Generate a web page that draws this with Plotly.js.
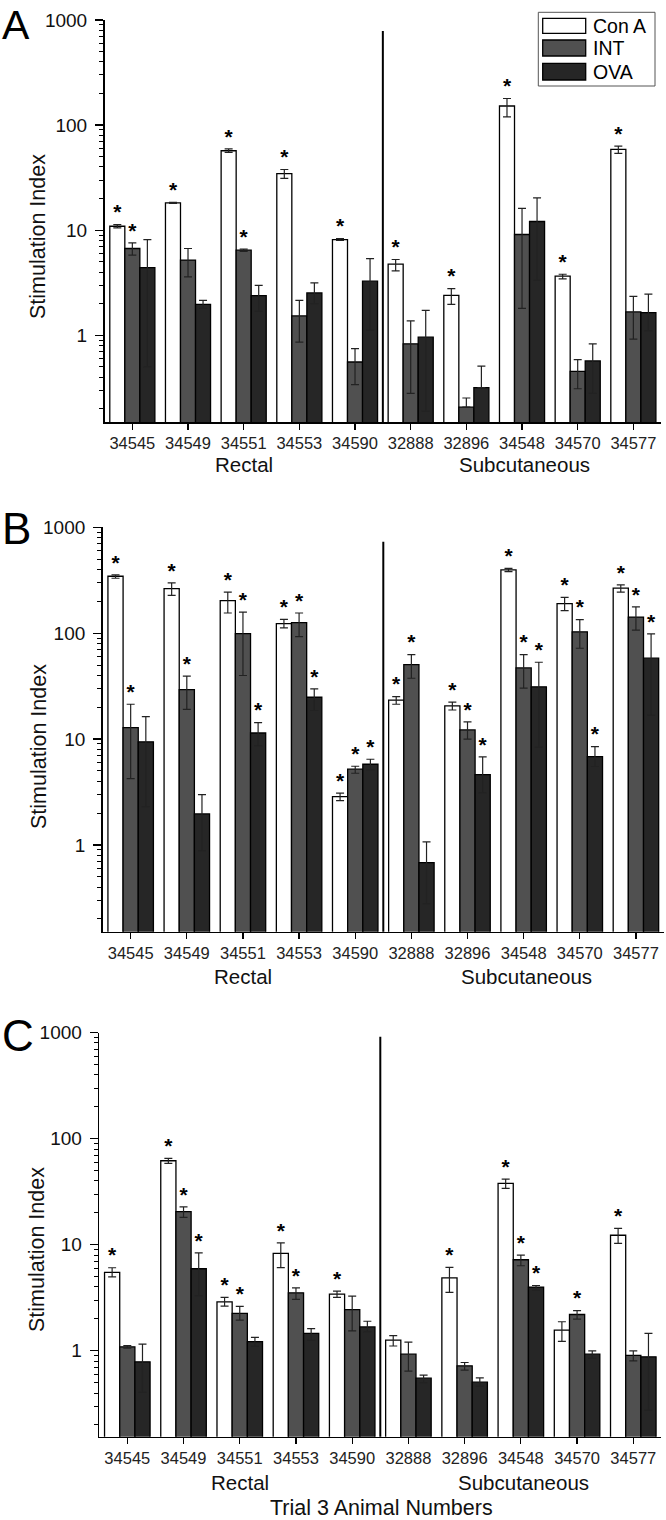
<!DOCTYPE html>
<html>
<head>
<meta charset="utf-8">
<script src="https://cdn.plot.ly/plotly-3.0.1.min.js"></script>
<style>
html,body{margin:0;padding:0;background:#fff;}
#chart{width:666px;height:1520px;}
</style>
</head>
<body>
<div id="chart"></div>
<script>
// ---------------- data ----------------
const animals = ['34545','34549','34551','34553','34590','32888','32896','34548','34570','34577'];
const groupNames = ['Rectal','Subcutaneous'];
const seriesNames = ['Con A','INT','OVA'];
const yTickVals = [1, 10, 100, 1000];
const yTickText = ['1','10','100','1000'];

// Panel A
const conA_A   = [10.9, 18.2, 57, 34.6, 8.15, 4.75, 2.4, 152, 3.65, 58.7];
const conA_A_hi= [11.3, 18.4, 59.5, 37.8, 8.3, 5.26, 2.78, 179, 3.81, 63];
const conA_A_lo= [10.5, 18.0, 55, 31.1, 8.0, 4.1, 1.97, 120, 3.44, 53.8];
const int_A    = [6.7, 5.2, 6.45, 1.53, 0.557, 0.83, 0.207, 9.1, 0.454, 1.67];
const int_A_hi = [7.57, 6.7, 6.6, 2.15, 0.746, 1.37, 0.253, 16.1, 0.587, 2.35];
const int_A_lo = [5.78, 3.6, 6.3, 0.86, 0.34, 0.28, 0.207, 1.8, 0.31, 0.92];
const ova_A    = [4.4, 1.97, 2.39, 2.53, 3.27, 0.96, 0.318, 12.1, 0.57, 1.64];
const ova_A_hi = [8.15, 2.15, 2.99, 3.15, 5.37, 1.73, 0.51, 20.3, 0.83, 2.46];
const ova_A_lo = [0.5, 1.8, 1.69, 2.0, 1.12, 0.19, 0.318, 3.34, 0.28, 1.1];
const sig_conA_A = [1,1,1,1,1,1,1,1,1,1];
const sig_int_A  = [1,0,1,0,0,0,0,0,0,0];
const sig_ova_A  = [0,0,0,0,0,0,0,0,0,0];

// Panel B
const conA_B   = [345, 264, 203, 123, 2.86, 23.3, 20.6, 396, 190, 266];
const conA_B_hi= [355, 298, 244, 135, 3.08, 25.2, 22.3, 410, 218, 286];
const conA_B_lo= [330, 227, 155, 112, 2.62, 21.3, 18.8, 382, 163, 244];
const int_B    = [12.8, 29.3, 99, 126, 5.19, 50.5, 12.2, 47, 103, 142];
const int_B_hi = [21.3, 39.2, 158, 155, 5.53, 62.8, 14.5, 62.8, 134, 177];
const int_B_lo = [4.23, 19.1, 39.8, 92.9, 4.75, 37.5, 9.96, 30.2, 72, 107];
const ova_B    = [9.4, 1.96, 11.4, 24.8, 5.78, 0.68, 4.62, 31.1, 6.83, 58];
const ova_B_hi = [16.3, 2.99, 14.3, 29.8, 6.44, 1.07, 6.78, 53.1, 8.49, 98.4];
const ova_B_lo = [2.3, 0.88, 8.6, 18.6, 5.11, 0.277, 3.1, 8.37, 5.5, 16.8];
const sig_conA_B = [1,1,1,1,1,1,1,1,1,1];
const sig_int_B  = [1,1,1,1,1,1,1,1,1,1];
const sig_ova_B  = [0,0,1,1,1,0,1,1,1,1];

// Panel C
const conA_C   = [5.48, 62, 2.9, 8.28, 3.42, 1.26, 4.88, 37.9, 1.57, 12.3];
const conA_C_hi= [6.07, 65.2, 3.19, 10.4, 3.66, 1.39, 6.11, 41.6, 1.88, 14.3];
const conA_C_lo= [4.99, 58.5, 2.64, 6.1, 3.19, 1.11, 3.55, 34, 1.23, 10.3];
const int_C    = [1.09, 20.5, 2.25, 3.52, 2.45, 0.93, 0.722, 7.22, 2.2, 0.904];
const int_C_hi = [1.12, 22.8, 2.62, 3.93, 3.28, 1.21, 0.776, 8.0, 2.39, 1.0];
const int_C_lo = [1.06, 18.1, 1.95, 3.05, 1.54, 0.643, 0.657, 6.34, 1.99, 0.805];
const ova_C    = [0.787, 5.94, 1.22, 1.46, 1.68, 0.552, 0.506, 3.99, 0.93, 0.877];
const ova_C_hi = [1.156, 8.4, 1.34, 1.62, 1.9, 0.589, 0.556, 4.13, 1.0, 1.46];
const ova_C_lo = [0.405, 3.3, 1.1, 1.26, 1.51, 0.5, 0.464, 3.73, 0.85, 0.276];
const sig_conA_C = [1,1,1,1,1,0,1,1,0,1];
const sig_int_C  = [0,1,1,1,0,0,0,1,1,0];
const sig_ova_C  = [0,1,0,0,0,0,0,1,0,0];

// ---------------- layout helpers ----------------
const W = 666, H = 1520;
const FONT = 'Arial, "Liberation Sans", Helvetica, sans-serif';
const px = v => v / W;
const py = v => 1 - v / H;
const colors = ['#ffffff', '#505050', '#262626'];
const BARGAP = 0.19;
const barW = (1 - BARGAP) / 3;

const panels = [
  { letter:'A', letterSize:41, xd:[104.5,661.2], yd:[20,422], range:[-0.825,3], divTop:31,
    letterY:25, ytX:38, ytY:237, grpY:464,
    series:[[conA_A,conA_A_hi,conA_A_lo,sig_conA_A],[int_A,int_A_hi,int_A_lo,sig_int_A],[ova_A,ova_A_hi,ova_A_lo,sig_ova_A]] },
  { letter:'B', letterSize:44, xd:[102.6,664], yd:[527.3,931.7], range:[-0.82,3], divTop:541.7,
    letterY:529, ytX:39, ytY:747, grpY:976,
    series:[[conA_B,conA_B_hi,conA_B_lo,sig_conA_B],[int_B,int_B_hi,int_B_lo,sig_int_B],[ova_B,ova_B_hi,ova_B_lo,sig_ova_B]] },
  { letter:'C', letterSize:44, xd:[99.2,661.4], yd:[1032.7,1436.7], range:[-0.81,3], divTop:1036.7,
    letterY:1035, ytX:37, ytY:1250, grpY:1482,
    series:[[conA_C,conA_C_hi,conA_C_lo,sig_conA_C],[int_C,int_C_hi,int_C_lo,sig_int_C],[ova_C,ova_C_hi,ova_C_lo,sig_ova_C]] }
];

const minorVals = [];
for (let e = -1; e <= 2; e++) for (let m = 2; m <= 9; m++) minorVals.push(m * Math.pow(10, e));

const idx = animals.map((_, i) => i);
const traces = [];
const layout = {
  width: W, height: H,
  margin: {l:0, r:0, t:0, b:0},
  paper_bgcolor: '#fff', plot_bgcolor: 'rgba(0,0,0,0)',
  barmode: 'group', bargap: BARGAP, bargroupgap: 0,
  showlegend: false,
  font: {family: FONT, color: '#000'},
  annotations: [], shapes: []
};

panels.forEach((p, pi) => {
  const sfx = pi === 0 ? '' : String(pi + 1);
  const xa = 'x' + sfx, ya = 'y' + sfx;
  layout['xaxis' + sfx] = {
    domain: [px(p.xd[0]), px(p.xd[1])], anchor: ya,
    range: [-0.5, 9.5], tickmode: 'array', tickvals: idx, ticktext: animals,
    ticks: 'outside', ticklen: 6, tickwidth: 1.3, tickcolor: '#000',
    ticklabelstandoff: 0,
    showline: true, linecolor: '#000', linewidth: 1.5,
    showgrid: false, zeroline: false, fixedrange: true,
    tickfont: {family: FONT, size: 16.5, color: '#222'}
  };
  layout['yaxis' + sfx] = {
    domain: [py(p.yd[1]), py(p.yd[0])], anchor: xa,
    type: 'log', range: p.range,
    tickmode: 'array', tickvals: yTickVals, ticktext: yTickText,
    ticks: 'outside', ticklen: 8, tickwidth: 1.3, tickcolor: '#000',
    ticklabelstandoff: 4,
    minor: {tickmode: 'array', tickvals: minorVals, ticks: 'outside', ticklen: 4, tickwidth: 1, tickcolor: '#000', showgrid: false},
    showline: true, linecolor: '#000', linewidth: 1.5,
    showgrid: false, zeroline: false, fixedrange: true,
    tickfont: {family: FONT, size: 19, color: '#111'}
  };

  p.series.forEach((s, k) => {
    const [v, hi, lo, sig] = s;
    traces.push({
      type: 'bar', name: seriesNames[k], x: idx, y: v,
      xaxis: xa, yaxis: ya,
      marker: {color: colors[k], line: {color: '#000', width: 1.3}},
      error_y: {type: 'data', symmetric: false,
        array: v.map((val, i) => hi[i] - val),
        arrayminus: v.map((val, i) => val - lo[i]),
        color: '#222', thickness: 1.2, width: 4},
      hoverinfo: 'skip', showlegend: false
    });
    const sx = [], sy = [];
    sig.forEach((f, i) => { if (f) { sx.push(i + (k - 1) * barW); sy.push(hi[i]); } });
    traces.push({
      type: 'scatter', mode: 'text', x: sx, y: sy, text: sx.map(() => '*'),
      textposition: 'top center', textfont: {family: FONT, size: 21, color: '#000', weight: 'bold'},
      xaxis: xa, yaxis: ya, cliponaxis: false, hoverinfo: 'skip', showlegend: false
    });
  });

  // divider between groups
  layout.shapes.push({type: 'line', xref: xa, yref: 'paper', x0: 4.5, x1: 4.5,
    y0: py(p.yd[1]), y1: py(p.divTop), line: {color: '#000', width: 2}});

  // panel letter
  layout.annotations.push({text: p.letter, xref: 'paper', yref: 'paper', x: px(0.5), y: py(p.letterY),
    xanchor: 'left', yanchor: 'middle', showarrow: false, borderpad: 0,
    font: {family: FONT, size: p.letterSize, color: '#000'}});
  // y title
  layout.annotations.push({text: 'Stimulation Index', xref: 'paper', yref: 'paper', x: px(p.ytX), y: py(p.ytY),
    xanchor: 'center', yanchor: 'middle', textangle: -90, showarrow: false,
    font: {family: FONT, size: 21.5, color: '#111'}});
  // group labels
  layout.annotations.push({text: groupNames[0], xref: xa, yref: 'paper', x: 2, y: py(p.grpY),
    xanchor: 'center', yanchor: 'middle', showarrow: false, font: {family: FONT, size: 20.5, color: '#111'}});
  layout.annotations.push({text: groupNames[1], xref: xa, yref: 'paper', x: 7.05, y: py(p.grpY),
    xanchor: 'center', yanchor: 'middle', showarrow: false, font: {family: FONT, size: 20.5, color: '#111'}});
});

// bottom title
layout.annotations.push({text: 'Trial 3 Animal Numbers', xref: 'paper', yref: 'paper', x: px(381), y: py(1508),
  xanchor: 'center', yanchor: 'middle', showarrow: false, font: {family: FONT, size: 21.5, color: '#111'}});

// custom legend (panel A)
layout.shapes.push({type: 'rect', xref: 'paper', yref: 'paper', x0: px(538.3), x1: px(655), y0: py(86), y1: py(12.3),
  line: {color: '#555', width: 1}, fillcolor: '#fff', layer: 'above'});
const legRows = [[18.3, 33.3], [40, 56], [63.3, 80]];
legRows.forEach((r, k) => {
  layout.shapes.push({type: 'rect', xref: 'paper', yref: 'paper', x0: px(542.7), x1: px(585.7), y0: py(r[1]), y1: py(r[0]),
    line: {color: '#000', width: 1.3}, fillcolor: colors[k], layer: 'above'});
  layout.annotations.push({text: seriesNames[k], xref: 'paper', yref: 'paper', x: px(590.5), y: py((r[0] + r[1]) / 2),
    xanchor: 'left', yanchor: 'middle', showarrow: false, font: {family: FONT, size: 19.5, color: '#000'}});
});

Plotly.newPlot('chart', traces, layout, {staticPlot: true, displayModeBar: false});
</script>
</body>
</html>
